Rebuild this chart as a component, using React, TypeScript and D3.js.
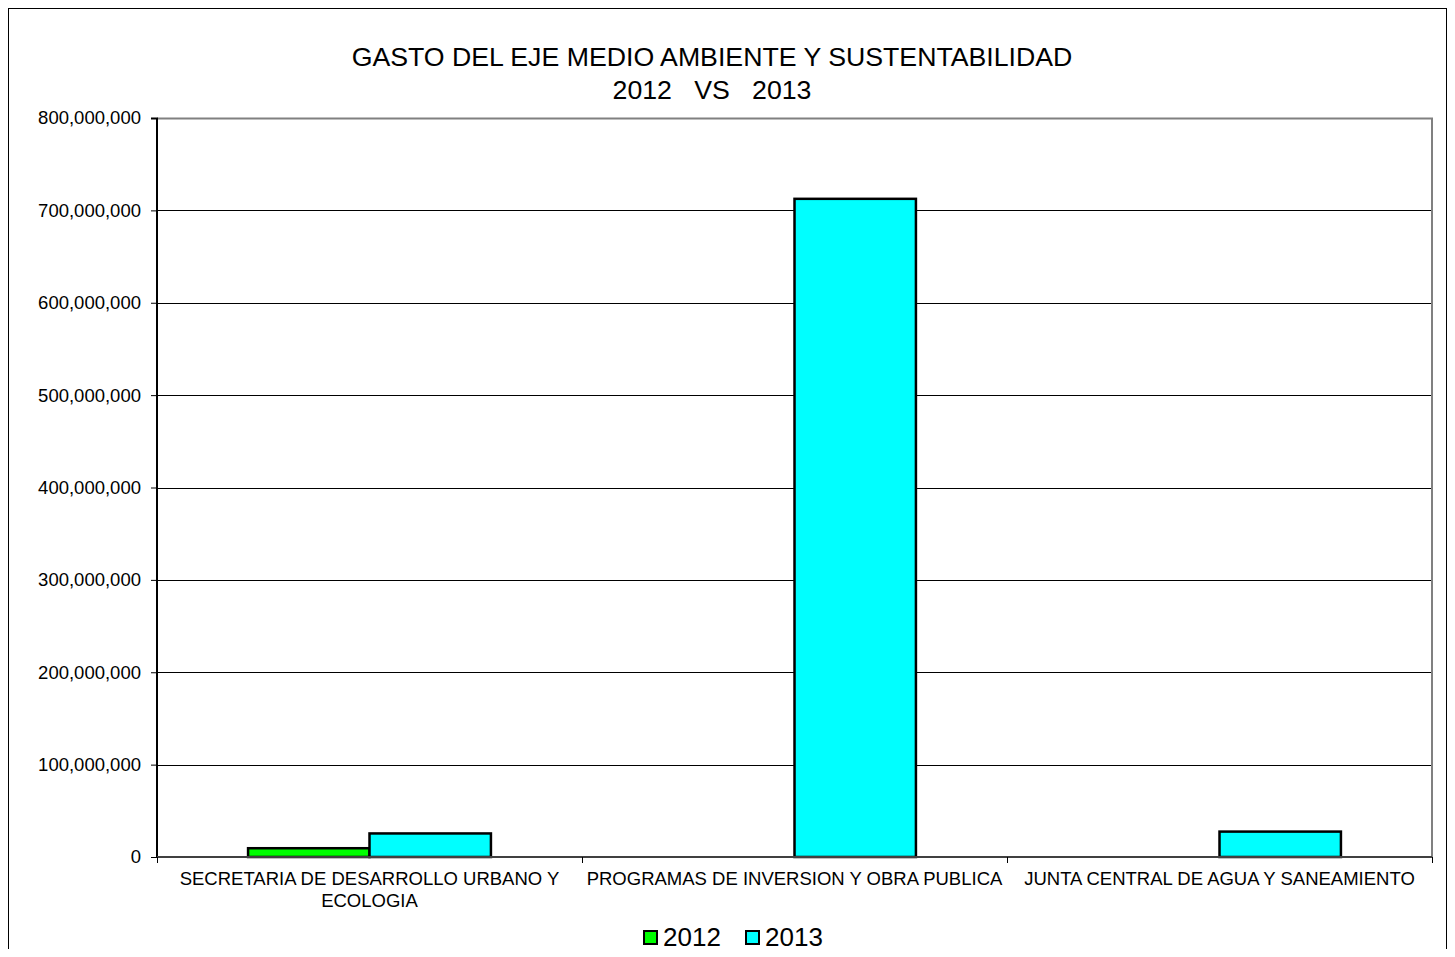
import React, { useEffect, useRef } from "react";
import * as d3 from "d3";

const categories = [
  ["SECRETARIA DE DESARROLLO URBANO Y", "ECOLOGIA"],
  ["PROGRAMAS DE INVERSION Y OBRA PUBLICA"],
  ["JUNTA CENTRAL DE AGUA Y SANEAMIENTO"],
];
const seriesNames = ["2012", "2013"];
const values2012 = [9500000, 0, 0];
const values2013 = [25500000, 712500000, 27500000];
const seriesColors = ["#00FF00", "#00FFFF"];
const yTicks = [0, 100000000, 200000000, 300000000, 400000000, 500000000, 600000000, 700000000, 800000000];

const W = 1455;
const H = 957;

const App: React.FC = () => {
  const svgRef = useRef<SVGSVGElement>(null);

  useEffect(() => {
    if (!svgRef.current) return;
    const svg = d3.select(svgRef.current);
    svg.selectAll("*").remove();

    const font = "'Liberation Sans', Arial, sans-serif";
    const margin = { top: 118, right: 23, bottom: 100, left: 157 };
    const plotW = W - margin.left - margin.right;
    const plotH = H - margin.top - margin.bottom;

    // Outer frame (bottom edge runs off the picture)
    svg
      .append("path")
      .attr("d", `M8,${H + 10} V8 H1447 V${H + 10}`)
      .attr("fill", "none")
      .attr("stroke", "#000")
      .attr("stroke-width", 2);

    // Title
    svg
      .append("text")
      .attr("x", 712)
      .attr("y", 66)
      .attr("text-anchor", "middle")
      .attr("font-family", font)
      .attr("font-size", "26.7px")
      .attr("fill", "#000")
      .text("GASTO DEL EJE MEDIO AMBIENTE Y SUSTENTABILIDAD");
    svg
      .append("text")
      .attr("x", 712)
      .attr("y", 99)
      .attr("text-anchor", "middle")
      .attr("font-family", font)
      .attr("font-size", "26.7px")
      .attr("fill", "#000")
      .attr("xml:space", "preserve")
      .style("white-space", "pre")
      .text("2012   VS   2013");

    const chart = svg
      .append("g")
      .attr("transform", `translate(${margin.left}, ${margin.top})`);

    const x0 = d3
      .scaleBand()
      .domain(categories.map((_, i) => String(i)))
      .range([0, plotW]);
    const x1 = d3
      .scaleBand()
      .domain(seriesNames)
      .range([0, x0.bandwidth()])
      .paddingInner(0)
      .paddingOuter(0.75);
    const y = d3.scaleLinear().domain([0, 800000000]).range([plotH, 0]);

    // Grid lines
    chart
      .append("g")
      .selectAll("line")
      .data(yTicks.slice(1))
      .enter()
      .append("line")
      .attr("x1", 0)
      .attr("x2", plotW)
      .attr("y1", (d) => Math.round(y(d)) + 0.5)
      .attr("y2", (d) => Math.round(y(d)) + 0.5)
      .attr("stroke", "#000")
      .attr("stroke-width", 1);

    // Plot frame (top and right, gray)
    chart
      .append("path")
      .attr("d", `M0,0.5 H${plotW} V${plotH}`)
      .attr("fill", "none")
      .attr("stroke", "#808080")
      .attr("stroke-width", 2);

    // Bars
    const series = [values2012, values2013];
    series.forEach((vals, si) => {
      chart
        .append("g")
        .selectAll("rect")
        .data(vals)
        .enter()
        .filter((d) => d > 0)
        .append("rect")
        .attr("x", (_, i) => (x0(String(i)) || 0) + (x1(seriesNames[si]) || 0))
        .attr("y", (d) => y(d))
        .attr("width", x1.bandwidth())
        .attr("height", (d) => plotH - y(d))
        .attr("fill", seriesColors[si])
        .attr("stroke", "#000")
        .attr("stroke-width", 2.5);
    });

    // Y axis
    const yAxis = d3
      .axisLeft(y)
      .tickValues(yTicks)
      .tickSize(6)
      .tickPadding(10)
      .tickFormat((d: any) => d3.format(",")(d));
    chart
      .append("g")
      .call(yAxis)
      .call((g) => g.select(".domain").attr("stroke", "#000").attr("stroke-width", 2).attr("d", `M-6,0.5 H0 V${plotH + 1}`))
      .call((g) => g.selectAll(".tick line").attr("stroke", "#000"))
      .call((g) =>
        g
          .selectAll("text")
          .attr("fill", "#000")
          .attr("font-family", font)
          .attr("font-size", "18.5px")
      );

    // X axis line and category ticks
    chart
      .append("line")
      .attr("x1", 0)
      .attr("x2", plotW)
      .attr("y1", plotH)
      .attr("y2", plotH)
      .attr("stroke", "#404040")
      .attr("stroke-width", 2);
    const boundaries = categories.map((_, i) => x0(String(i)) || 0).concat([plotW]);
    chart
      .append("g")
      .selectAll("line")
      .data(boundaries)
      .enter()
      .append("line")
      .attr("x1", (d) => d + 0.5)
      .attr("x2", (d) => d + 0.5)
      .attr("y1", plotH)
      .attr("y2", plotH + 6)
      .attr("stroke", "#000");

    // Category labels
    const labels = chart
      .append("g")
      .selectAll("text")
      .data(categories)
      .enter()
      .append("text")
      .attr("x", (_, i) => (x0(String(i)) || 0) + x0.bandwidth() / 2)
      .attr("y", plotH + 28)
      .attr("text-anchor", "middle")
      .attr("font-family", font)
      .attr("font-size", "18.5px")
      .attr("fill", "#000");
    labels
      .selectAll("tspan")
      .data((d) => d)
      .enter()
      .append("tspan")
      .attr("x", function () {
        return (this.parentNode as SVGTextElement).getAttribute("x");
      })
      .attr("dy", (_, j) => (j === 0 ? 0 : 22))
      .text((d) => d);

    // Legend
    const legend = svg.append("g").attr("transform", "translate(0, 937)");
    const legendX = [644, 746];
    seriesNames.forEach((name, i) => {
      legend
        .append("rect")
        .attr("x", legendX[i])
        .attr("y", -6)
        .attr("width", 13)
        .attr("height", 13)
        .attr("fill", seriesColors[i])
        .attr("stroke", "#000")
        .attr("stroke-width", 2);
      legend
        .append("text")
        .attr("x", legendX[i] + 19)
        .attr("y", 9)
        .attr("font-family", font)
        .attr("font-size", "26px")
        .attr("fill", "#000")
        .text(name);
    });
  }, []);

  return (
    <div style={{ margin: -8 }}>
      <svg ref={svgRef} width={W} height={H} style={{ display: "block", background: "#fff" }}></svg>
    </div>
  );
};

export default App;
